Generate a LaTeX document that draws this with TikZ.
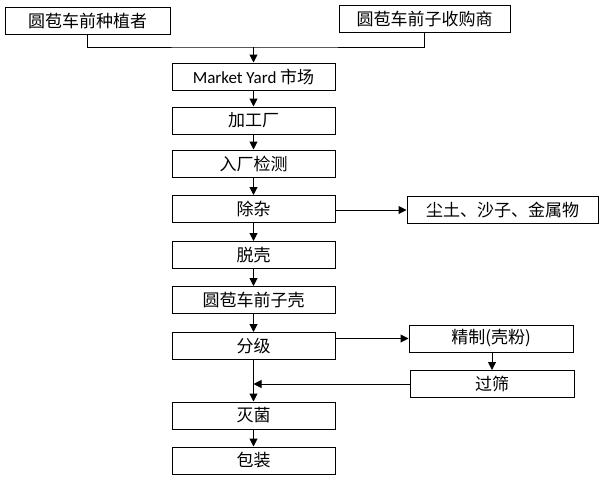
\documentclass[tikz,border=0pt]{standalone}
\usepackage{fontspec}
\setmainfont{Noto Sans CJK SC}
\newfontfamily\latin{Carlito}
\usetikzlibrary{arrows.meta}

\begin{document}
\begin{tikzpicture}[x=1pt,y=-1pt,line width=1pt,>={Triangle[length=8pt,width=8pt]},
  box/.style={draw,inner sep=0pt,minimum height=27pt,font=\fontsize{17}{20}\selectfont},
  stepbox/.style={box,minimum width=163pt}]
  \useasboundingbox (0,0) rectangle (602,479);
  % sources
  \node[box,minimum width=165pt] (grower) at (87.5,20.5) {圆苞车前种植者};
  \node[box,minimum width=171pt] (buyer) at (424.5,19) {圆苞车前子收购商};
  % main line
  \node[stepbox] (market) at (253.5,76.5) {{\latin Market Yard} 市场};
  \node[stepbox] (factory) at (253.5,120.5) {加工厂};
  \node[stepbox] (check) at (253.5,163.5) {入厂检测};
  \node[stepbox] (clean) at (253.5,209) {除杂};
  \node[stepbox] (dehull) at (253.5,255) {脱壳};
  \node[stepbox] (husk) at (253.5,300) {圆苞车前子壳};
  \node[stepbox] (grade) at (253.5,346) {分级};
  \node[stepbox] (steril) at (253.5,415.5) {灭菌};
  \node[stepbox] (pack) at (253.5,460.5) {包装};
  % side line
  \node[box,minimum width=191pt] (waste) at (502.5,210) {尘土、沙子、金属物};
  \node[box,minimum width=164pt] (refine) at (491,338.5) {精制(壳粉)};
  \node[box,minimum width=164pt] (sieve) at (492,384) {过筛};

  \coordinate (join) at (253.5,47);
  \draw (grower.south) |- (join) -| (buyer.south);
  \draw[->] (join) -- (market.north);
  \draw[->] (market) -- (factory);
  \draw[->] (factory) -- (check);
  \draw[->] (check) -- (clean);
  \draw[->] (clean) -- (dehull);
  \draw[->] (dehull) -- (husk);
  \draw[->] (husk) -- (grade);
  \draw[->] (grade) -- (steril);
  \draw[->] (steril) -- (pack);
  \draw[->] (clean.east |- waste.west) -- (waste.west);
  \draw[->] (grade.east |- refine.west) -- (refine.west);
  \draw[->] (refine.south -| sieve.north) -- (sieve.north);
  \draw[->] (sieve.west) -- (grade.south |- sieve.west);
\end{tikzpicture}
\end{document}
